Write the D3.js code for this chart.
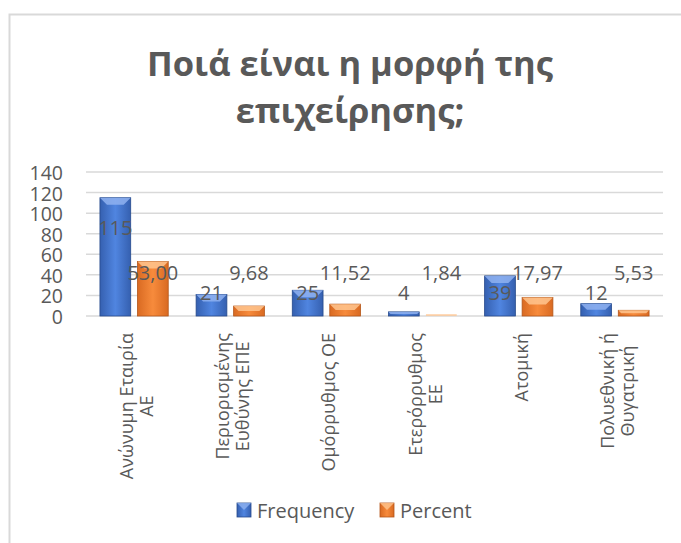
<!DOCTYPE html>
<html>
<head>
<meta charset="utf-8">
<script src="https://cdn.jsdelivr.net/npm/d3@7"></script>
<style>
  body { margin: 0; background: #fff; }
  svg { display: block; }
</style>
</head>
<body>
<div id="chart"></div>
<script>
// data
var categories = ["Ανώνυμη Εταιρία\nAE", "Περιορισμένης\nΕυθύνης ΕΠΕ", "Ομόρρυθμος ΟΕ", "Ετερόρρυθμος\nΕΕ", "Ατομική", "Πολυεθνική ή\nΘυγατρική"];
var frequency = [115, 21, 25, 4, 39, 12];
var percent = [53.00, 9.68, 11.52, 1.84, 17.97, 5.53];
var seriesNames = ["Frequency", "Percent"];
var yTicks = [0, 20, 40, 60, 80, 100, 120, 140];

var W = 681, H = 543;
var font = "'Open Sans', 'Liberation Sans', sans-serif";
var grey = "#595959";

var svg = d3.select("#chart").append("svg")
  .attr("width", W).attr("height", H);

// chart frame
svg.append("rect")
  .attr("x", 9.5).attr("y", 14.5)
  .attr("width", W + 20).attr("height", H + 20)
  .attr("fill", "#fff").attr("stroke", "#d9d9d9").attr("stroke-width", 2);

// gradients for the bevelled bars
var defs = svg.append("defs");
function grad(id, c0, c1) {
  var g = defs.append("linearGradient").attr("id", id)
    .attr("x1", 0).attr("x2", 1).attr("y1", 0).attr("y2", 0);
  g.append("stop").attr("offset", "0%").attr("stop-color", c0);
  g.append("stop").attr("offset", "50%").attr("stop-color", c1);
  g.append("stop").attr("offset", "100%").attr("stop-color", c0);
}
grad("gBlue", "#3560b0", "#5085e0");
grad("gOrange", "#d96a22", "#f78b3c");
var colors = { Frequency: ["url(#gBlue)", "#8fb2f0", "#264a8c"], Percent: ["url(#gOrange)", "#ffc58f", "#b4561a"] };

// title
var title = svg.append("text")
  .attr("text-anchor", "middle")
  .attr("font-family", font).attr("font-weight", "bold")
  .attr("font-size", 34.5).attr("fill", grey);
title.append("tspan").attr("x", 350).attr("y", 76).text("Ποιά είναι η μορφή της");
title.append("tspan").attr("x", 350).attr("y", 123).text("επιχείρησης;");

// scales
var x0 = d3.scaleBand().domain(categories).range([86, 663]).paddingInner(0.29).paddingOuter(0.145);
var x1 = d3.scaleBand().domain(seriesNames).range([0, x0.bandwidth()]).paddingInner(0.18);
var y = d3.scaleLinear().domain([0, 140]).range([316, 172]);

// gridlines
svg.append("g").selectAll("line").data(yTicks).enter().append("line")
  .attr("x1", 86).attr("x2", 663)
  .attr("y1", function(d) { return y(d); }).attr("y2", function(d) { return y(d); })
  .attr("stroke", "#d9d9d9").attr("stroke-width", 1.5);

// y axis
var yAxis = svg.append("g")
  .attr("transform", "translate(66,0)")
  .call(d3.axisLeft(y).tickValues(yTicks).tickSize(0).tickPadding(3));
yAxis.select(".domain").remove();
yAxis.selectAll("text")
  .attr("font-family", font).attr("font-size", 19.5).attr("fill", grey)
  .attr("dy", null).attr("dominant-baseline", "central");

// bars
var rows = categories.map(function(c, i) {
  return { cat: c, vals: [{ s: "Frequency", v: frequency[i] }, { s: "Percent", v: percent[i] }] };
});

var groups = svg.append("g").selectAll("g").data(rows).enter().append("g")
  .attr("transform", function(d) { return "translate(" + x0(d.cat) + ",0)"; });

groups.each(function(row) {
  var g = d3.select(this);
  row.vals.forEach(function(d) {
    var bx = x1(d.s), bw = x1.bandwidth();
    var top = y(d.v), h = y(0) - top;
    var c = colors[d.s];
    var faint = d.v < 2;
    g.append("rect")
      .attr("x", bx).attr("y", top).attr("width", bw).attr("height", h)
      .attr("fill", faint ? c[1] : c[0])
      .attr("stroke", faint ? "none" : c[2]).attr("stroke-width", 0.8)
      .attr("opacity", faint ? 0.7 : 1);
    // bevel on top
    var bev = Math.min(7, h / 2);
    if (!faint) {
      g.append("path")
        .attr("d", "M" + bx + "," + top + "L" + (bx + bw) + "," + top +
          "L" + (bx + bw - bev) + "," + (top + bev) + "L" + (bx + bev) + "," + (top + bev) + "Z")
        .attr("fill", c[1]).attr("opacity", 0.85);
    }
  });
});

// data labels
var labelFont = 20;
svg.append("g").selectAll("text").data(categories).enter().append("text")
  .attr("x", function(d) { return x0(d) + x1("Frequency") + x1.bandwidth() / 2; })
  .attr("y", function(d, i) { return Math.min(y(frequency[i]) + 30, y(23)); })
  .attr("text-anchor", "middle").attr("dominant-baseline", "central")
  .attr("font-family", font).attr("font-size", labelFont).attr("fill", grey)
  .text(function(d, i) { return frequency[i]; });

svg.append("g").selectAll("text").data(categories).enter().append("text")
  .attr("x", function(d) { return x0(d) + x1("Percent") + x1.bandwidth() / 2; })
  .attr("y", y(42.7))
  .attr("text-anchor", "middle").attr("dominant-baseline", "central")
  .attr("font-family", font).attr("font-size", labelFont).attr("fill", grey)
  .text(function(d, i) { return percent[i].toFixed(2).replace(".", ","); });

// category labels, rotated, lines centred
categories.forEach(function(c) {
  var lines = c.split("\n");
  var cx = x0(c) + x0.bandwidth() / 2 + 2;
  var t = svg.append("text")
    .attr("transform", "translate(" + cx + ",333) rotate(-90)")
    .attr("font-family", font).attr("font-size", 18).attr("fill", grey)
    .attr("text-anchor", "middle").attr("dominant-baseline", "central");
  lines.forEach(function(l, i) {
    t.append("tspan").attr("y", (i - (lines.length - 1) / 2) * 20).text(l);
  });
  var L = d3.max(t.selectAll("tspan").nodes(), function(n) { return n.getComputedTextLength(); });
  t.selectAll("tspan").attr("x", -L / 2);
});

// legend
var legend = svg.append("g").attr("font-family", font).attr("font-size", 20).attr("fill", grey);
var legendX = [237, 380];
seriesNames.forEach(function(s, i) {
  var c = colors[s];
  legend.append("rect").attr("x", legendX[i]).attr("y", 503).attr("width", 14).attr("height", 14)
    .attr("fill", c[0]).attr("stroke", c[2]).attr("stroke-width", 0.8);
  legend.append("path")
    .attr("d", "M" + legendX[i] + ",503L" + (legendX[i] + 14) + ",503L" + (legendX[i] + 7) + ",510Z")
    .attr("fill", c[1]).attr("opacity", 0.8);
  legend.append("text").attr("x", legendX[i] + 20).attr("y", 510)
    .attr("dominant-baseline", "central").text(s);
});
</script>
</body>
</html>
